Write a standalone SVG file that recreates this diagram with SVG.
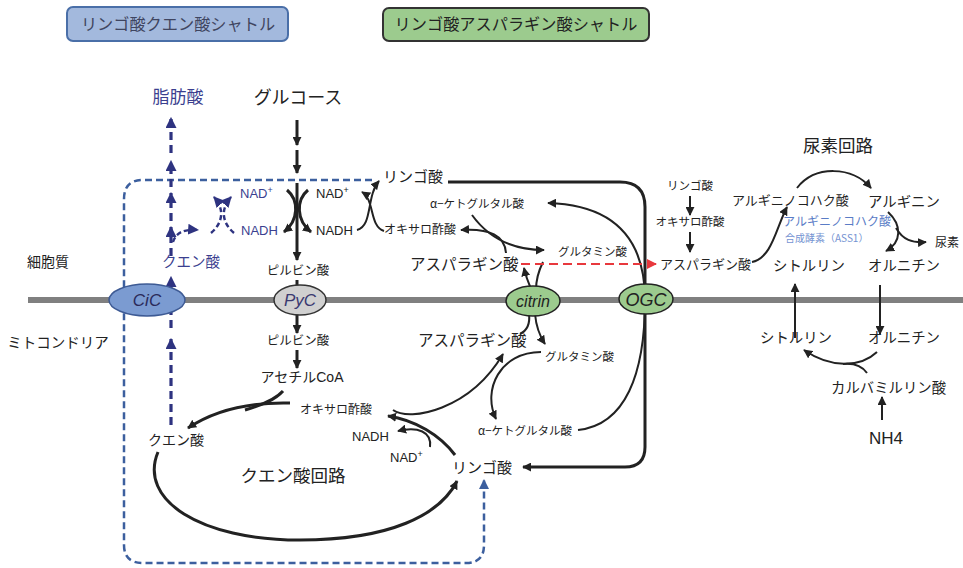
<svg xmlns="http://www.w3.org/2000/svg" width="963" height="568" viewBox="0 0 963 568">
<defs>
<style>
text{font-family:"Noto Sans CJK JP","Liberation Sans",sans-serif;fill:#222}
.lat{font-family:"Liberation Sans","Noto Sans CJK JP",sans-serif}
.nv{fill:#3b3f8f}
.bl{fill:#5a7cc6}
.ln{fill:none;stroke:#222;stroke-width:2}
.th{stroke-width:3}
.nvd{fill:none;stroke:#2e3380;stroke-width:3.2;stroke-dasharray:8,5}
.nvs{fill:none;stroke:#2e3380;stroke-width:2.4;stroke-dasharray:5,3}
.el{font-style:italic;font-family:"Liberation Sans",sans-serif}
</style>
<marker id="ab" viewBox="0 0 10 10" refX="9" refY="5" markerWidth="9" markerHeight="9" markerUnits="userSpaceOnUse" orient="auto"><path d="M0,0 L10,5 L0,10 z" fill="#222"/></marker>
<marker id="an" viewBox="0 0 10 10" refX="9" refY="5" markerWidth="11" markerHeight="11" markerUnits="userSpaceOnUse" orient="auto"><path d="M0,0 L10,5 L0,10 z" fill="#2e3380"/></marker>
<marker id="ablu" viewBox="0 0 10 10" refX="9" refY="5" markerWidth="10" markerHeight="10" markerUnits="userSpaceOnUse" orient="auto"><path d="M0,0 L10,5 L0,10 z" fill="#3c5f9e"/></marker>
<marker id="ar" viewBox="0 0 10 10" refX="9" refY="5" markerWidth="10" markerHeight="10" markerUnits="userSpaceOnUse" orient="auto"><path d="M0,0 L10,5 L0,10 z" fill="#e8383d"/></marker>
</defs>
<rect width="963" height="568" fill="#fff"/>

<g id="header-cic">
<rect x="67" y="7" width="221" height="34" rx="6" fill="#a3b9dd" stroke="#4a6fa8" stroke-width="2"/>
<text x="178" y="30" font-size="16.2" text-anchor="middle" style="fill:#3f4560">リンゴ酸クエン酸シャトル</text>
</g>
<g id="header-mas">
<rect x="383" y="8" width="266" height="33" rx="6" fill="#9ccb8e" stroke="#333" stroke-width="2"/>
<text x="516" y="30" font-size="16.2" text-anchor="middle">リンゴ酸アスパラギン酸シャトル</text>
</g>

<line id="membrane" x1="28" y1="300" x2="963" y2="300" stroke="#808080" stroke-width="6"/>

<g id="connectors">
<path d="M372,180 H143 Q124,180 124,199 V545 Q124,563 143,563 H466 Q484,563 484,545 V480" fill="none" stroke="#3c5f9e" stroke-width="2.5" stroke-dasharray="7,4" marker-end="url(#ablu)"/>
<path class="nvd" d="M171,425 V339" marker-end="url(#an)"/>
<path class="nvd" d="M171,328 V277" marker-end="url(#an)"/>
<path class="nvd" d="M171,256 V227" marker-end="url(#an)"/>
<path class="nvd" d="M171,221 V193" marker-end="url(#an)"/>
<path class="nvd" d="M171,187 V161" marker-end="url(#an)"/>
<path class="nvd" d="M171,153 V118" marker-end="url(#an)"/>
<path class="nvs" d="M173,242 C176,232 185,229 198,230" marker-end="url(#an)"/>
<path class="nvs" d="M211,233 C224,222 224,208 214,197" marker-end="url(#an)"/>
<path class="nvs" d="M234,233 C221,222 221,208 231,197" marker-end="url(#an)"/>
<path class="ln th" d="M297,120 V145" marker-end="url(#ab)"/>
<path class="ln th" d="M297,150 V173" marker-end="url(#ab)"/>
<path class="ln th" d="M297,183 V260" marker-end="url(#ab)"/>
<path class="ln th" d="M287,190 C299,200 299,220 284,232" marker-end="url(#ab)"/>
<path class="ln th" d="M308,190 C296,200 296,220 311,232" marker-end="url(#ab)"/>
<path class="ln" d="M357,230 C373,226 366,196 379,181" marker-end="url(#ab)"/>
<path class="ln" d="M384,231 C369,226 375,200 362,192" marker-end="url(#ab)"/>
<path class="ln th" d="M297,280 V290"/>
<path class="ln th" d="M297,314 V333" marker-end="url(#ab)"/>
<path class="ln th" d="M297,350 V368" marker-end="url(#ab)"/>
<path class="ln th" d="M283,391 C275,400 262,405 245,410"/>
<path class="ln th" d="M290,403 C250,402 215,410 188,428" marker-end="url(#ab)"/>
<path class="ln th" d="M158,452 C138,500 200,540 300,540 C390,540 440,515 457,481" marker-end="url(#ab)"/>
<path class="ln th" d="M455,455 C440,435 415,420 388,416" marker-end="url(#ab)"/>
<path class="ln" d="M430,447 C432,432 418,426 398,431" marker-end="url(#ab)"/>
<path class="ln" d="M393,410 C410,422 470,410 503,354" marker-end="url(#ab)"/>
<path class="ln" d="M541,352 C500,352 482,390 496,419" marker-end="url(#ab)"/>
<path class="ln" d="M520,334 C528,330 530,322 529,314"/>
<path class="ln" d="M535,314 C536,325 539,335 545,344" marker-end="url(#ab)"/>
<path class="ln" d="M531,289 C528,282 526,277 524,268" marker-end="url(#ab)"/>
<path class="ln" d="M543,262 C538,272 536,283 536,290"/>
<path class="ln" d="M472,215 C490,240 515,250 544,250" marker-end="url(#ab)"/>
<path class="ln" d="M506,253 C505,236 490,228 461,230" marker-end="url(#ab)"/>
<path class="ln" d="M578,430 C625,425 645,375 645,300 C645,240 615,205 548,203" marker-end="url(#ab)"/>
<path class="ln th" d="M448,182 H620 Q645,182 645,207 V447 Q645,467 625,467 H523" marker-end="url(#ab)"/>
<path d="M521,264 H656" fill="none" stroke="#e8383d" stroke-width="2.2" stroke-dasharray="9,5" marker-end="url(#ar)"/>
<path class="ln" d="M690,196 V215" marker-end="url(#ab)"/>
<path class="ln" d="M690,232 V252" marker-end="url(#ab)"/>
<path class="ln" d="M752,262 C772,258 776,228 787,207" marker-end="url(#ab)"/>
<path class="ln" d="M797,188 C815,165 852,166 871,188" marker-end="url(#ab)"/>
<path class="ln" d="M888,212 C902,225 902,242 886,251" marker-end="url(#ab)"/>
<path class="ln" d="M896,228 C903,240 912,243 926,242" marker-end="url(#ab)"/>
<path class="ln" d="M795,338 V284" marker-end="url(#ab)"/>
<path class="ln" d="M880,285 V334" marker-end="url(#ab)"/>
<path class="ln" d="M877,352 C860,368 830,368 804,350" marker-end="url(#ab)"/>
<path class="ln" d="M867,373 C862,366 853,363 843,364"/>
<path class="ln" d="M882,420 V397" marker-end="url(#ab)"/>
</g>

<g id="CiC"><ellipse cx="147" cy="300" rx="38" ry="16" fill="#7b9bd1" stroke="#3d5a94" stroke-width="1.5"/><text class="el" x="147" y="306" font-size="17" text-anchor="middle" style="fill:#2a2a5a">CiC</text></g>
<g id="PyC"><ellipse cx="300" cy="300" rx="26" ry="15" fill="#d0d0d0" stroke="#333" stroke-width="1.5"/><text class="el" x="300" y="306" font-size="17" text-anchor="middle" style="fill:#3a3a70">PyC</text></g>
<g id="citrin"><ellipse cx="533" cy="301" rx="27" ry="15" fill="#9ccb8e" stroke="#222" stroke-width="1.5"/><text class="el" x="533" y="307" font-size="16" text-anchor="middle">citrin</text></g>
<g id="OGC"><ellipse cx="646" cy="299" rx="27" ry="15" fill="#9ccb8e" stroke="#222" stroke-width="1.5"/><text class="el" x="646" y="306" font-size="18" text-anchor="middle">OGC</text></g>

<g id="labels-region">
<text x="48" y="267" font-size="14" text-anchor="middle">細胞質</text>
<text x="58" y="348" font-size="14.5" text-anchor="middle">ミトコンドリア</text>
</g>
<g id="fatty-acid"><text class="nv" x="178" y="103" font-size="17" text-anchor="middle">脂肪酸</text></g>
<g id="glucose"><text x="298" y="104" font-size="18" text-anchor="middle">グルコース</text></g>
<g id="citrate-cyto"><text class="nv" x="191" y="267" font-size="14.5" text-anchor="middle">クエン酸</text></g>
<g id="nad-navy">
<text class="nv lat" x="240" y="198" font-size="13">NAD<tspan font-size="9" dy="-5">+</tspan></text>
<text class="nv lat" x="241" y="235" font-size="13">NADH</text>
</g>
<g id="nad-black">
<text class="lat" x="316" y="198" font-size="13">NAD<tspan font-size="9" dy="-5">+</tspan></text>
<text class="lat" x="316" y="235" font-size="13">NADH</text>
</g>
<g id="malate-cyto"><text x="383" y="182" font-size="15">リンゴ酸</text></g>
<g id="akg-cyto"><text x="430" y="208" font-size="11.5">α−ケトグルタル酸</text></g>
<g id="oaa-cyto"><text x="384" y="234" font-size="12">オキサロ酢酸</text></g>
<g id="glu-cyto"><text x="558" y="256" font-size="11.5">グルタミン酸</text></g>
<g id="asp-cyto"><text x="410" y="270" font-size="15.5">アスパラギン酸</text></g>
<g id="pyr-cyto"><text x="298" y="275" font-size="12.5" text-anchor="middle">ピルビン酸</text></g>
<g id="pyr-mito"><text x="298" y="345" font-size="12.5" text-anchor="middle">ピルビン酸</text></g>
<g id="acetylcoa"><text x="302" y="382" font-size="14" text-anchor="middle">アセチル<tspan class="lat">CoA</tspan></text></g>
<g id="oaa-mito"><text x="300" y="414" font-size="12">オキサロ酢酸</text></g>
<g id="citrate-mito"><text x="148" y="445" font-size="14">クエン酸</text></g>
<g id="nad-mito">
<text class="lat" x="352" y="441" font-size="13">NADH</text>
<text class="lat" x="390" y="462" font-size="13">NAD<tspan font-size="9" dy="-5">+</tspan></text>
</g>
<g id="tca"><text x="293" y="482" font-size="17.5" text-anchor="middle">クエン酸回路</text></g>
<g id="malate-mito"><text x="452" y="473" font-size="15">リンゴ酸</text></g>
<g id="asp-mito"><text x="418" y="346" font-size="15.5">アスパラギン酸</text></g>
<g id="glu-mito"><text x="545" y="361" font-size="11.5">グルタミン酸</text></g>
<g id="akg-mito"><text x="478" y="435" font-size="11.5">α−ケトグルタル酸</text></g>
<g id="right-malate"><text x="690" y="190" font-size="11.5" text-anchor="middle">リンゴ酸</text></g>
<g id="right-oaa"><text x="690" y="226" font-size="11.5" text-anchor="middle">オキサロ酢酸</text></g>
<g id="right-asp"><text x="660" y="269" font-size="13">アスパラギン酸</text></g>
<g id="urea-title"><text x="838" y="152" font-size="17.5" text-anchor="middle">尿素回路</text></g>
<g id="argsucc"><text x="732" y="205" font-size="13">アルギニノコハク酸</text></g>
<g id="arginine"><text x="868" y="207" font-size="14.4">アルギニン</text></g>
<g id="ass1">
<text class="bl" x="783" y="226" font-size="12">アルギニノコハク酸</text>
<text x="785" y="242" font-size="10" style="fill:#7593d2">合成酵素（ASS1）</text>
</g>
<g id="urea"><text x="935" y="247" font-size="12">尿素</text></g>
<g id="citrulline-cyto"><text x="773" y="271" font-size="14.4">シトルリン</text></g>
<g id="ornithine-cyto"><text x="868" y="271" font-size="14.4">オルニチン</text></g>
<g id="citrulline-mito"><text x="760" y="343" font-size="14.4">シトルリン</text></g>
<g id="ornithine-mito"><text x="868" y="343" font-size="14.4">オルニチン</text></g>
<g id="carbamoyl"><text x="831" y="393" font-size="14.4">カルバミルリン酸</text></g>
<g id="nh4"><text class="lat" x="886" y="444" font-size="17" text-anchor="middle">NH4</text></g>
</svg>
